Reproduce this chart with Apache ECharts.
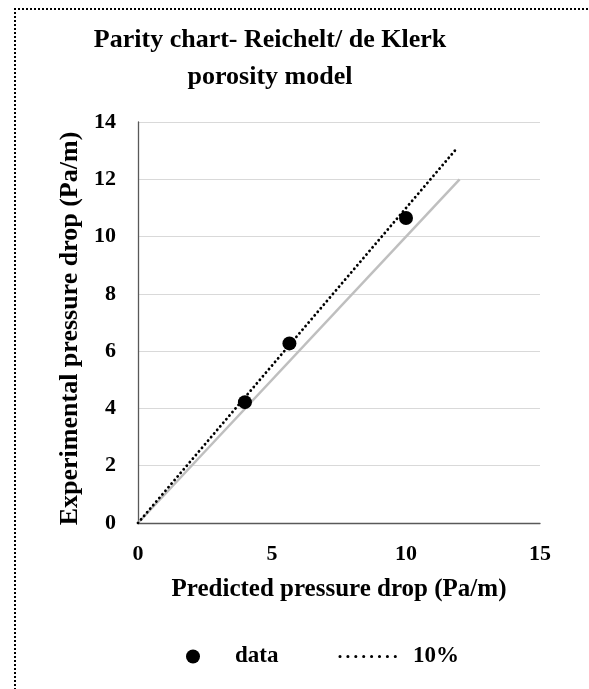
<!DOCTYPE html>
<html>
<head>
<meta charset="utf-8">
<script src="https://cdn.jsdelivr.net/npm/echarts@6/dist/echarts.min.js"></script>
<style>
html,body{margin:0;padding:0;background:#fff;}
#frame{position:absolute;left:14px;top:8px;width:600px;height:700px;border-top:2px dotted #000;border-left:2px dotted #000;}
#chart{position:absolute;left:0;top:0;width:589px;height:689px;}
</style>
</head>
<body>
<div id="frame"></div>
<div id="chart"></div>
<script>
const titleLines = ['Parity chart- Reichelt/ de Klerk', 'porosity model'];
const xAxisName = 'Predicted pressure drop (Pa/m)';
const yAxisName = 'Experimental pressure drop (Pa/m)';
const legendNames = ['data', '10%'];
const predicted = [3.99, 5.65, 10.0];
const experimental = [4.22, 6.27, 10.65];
const parityX = [0, 12];
const parityY = [0, 12];
const tenPctX = [0, 11.85];
const tenPctY = [0, 13.03];
const xTicks = [0, 5, 10, 15];
const yTicks = [0, 2, 4, 6, 8, 10, 12, 14];

const FONT = '"Liberation Serif", "Times New Roman", serif';
const zip = (a, b) => a.map((v, i) => [v, b[i]]);

const chart = echarts.init(document.getElementById('chart'), null, {renderer: 'canvas'});
chart.setOption({
  animation: false,
  textStyle: {fontFamily: FONT},
  graphic: [{
    type: 'text', x: 270, y: 22,
    style: {text: titleLines.join('\n'), textAlign: 'center', fill: '#000',
      font: 'bold 26px ' + FONT, lineHeight: 37}
  }],
  grid: {left: 138, right: 49, top: 122, bottom: 166, containLabel: false},
  xAxis: {
    type: 'value', min: xTicks[0], max: xTicks[xTicks.length - 1], interval: 5,
    axisLine: {show: true, onZero: false, lineStyle: {color: '#595959', width: 1.3}},
    axisTick: {show: false},
    splitLine: {show: false},
    axisLabel: {color: '#000', fontWeight: 'bold', fontSize: 22, margin: 20, fontFamily: FONT},
    name: xAxisName, nameLocation: 'middle', nameGap: 54,
    nameTextStyle: {color: '#000', fontWeight: 'bold', fontSize: 25, fontFamily: FONT}
  },
  yAxis: {
    type: 'value', min: yTicks[0], max: yTicks[yTicks.length - 1], interval: 2,
    axisLine: {show: true, onZero: false, lineStyle: {color: '#595959', width: 1.3}},
    axisTick: {show: false},
    splitLine: {show: true, lineStyle: {color: '#d9d9d9', width: 1}},
    axisLabel: {color: '#000', fontWeight: 'bold', fontSize: 22, margin: 22, fontFamily: FONT},
    name: yAxisName, nameLocation: 'middle', nameGap: 49,
    nameTextStyle: {color: '#000', fontWeight: 'bold', fontSize: 26, fontFamily: FONT, padding: [0, 12, 0, 0]}
  },
  legend: {
    data: [
      {name: legendNames[0]},
      {name: legendNames[1], itemStyle: {opacity: 0},
       lineStyle: {color: '#000', width: 3, type: [0.1, 7.8], cap: 'round'}}
    ],
    left: 181, top: 640, itemWidth: 62, itemHeight: 14, itemGap: 60,
    textStyle: {color: '#000', fontWeight: 'bold', fontSize: 23, fontFamily: FONT, padding: [0, 0, 0, 6]}
  },
  series: [{
    name: 'parity', type: 'line', data: zip(parityX, parityY), symbol: 'none',
    lineStyle: {color: '#bfbfbf', width: 2.5}, z: 2
  }, {
    name: legendNames[1], type: 'line', data: zip(tenPctX, tenPctY), symbol: 'none',
    lineStyle: {color: '#000', width: 2.8, type: [0.1, 4.6], cap: 'round'},
    itemStyle: {color: '#000'}, z: 3
  }, {
    name: legendNames[0], type: 'scatter', data: zip(predicted, experimental), symbol: 'circle', symbolSize: 14,
    itemStyle: {color: '#000', opacity: 1}, z: 4
  }]
});
</script>
</body>
</html>
